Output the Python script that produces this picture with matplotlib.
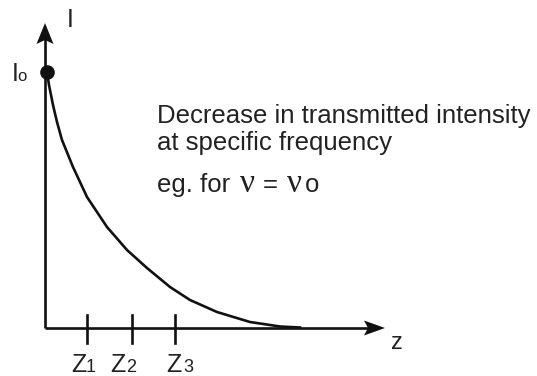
import matplotlib
matplotlib.use('Agg')
import matplotlib.pyplot as plt
from matplotlib.patches import Polygon

# transmitted intensity I against path length z (arbitrary units)
z_curve = [2, 4, 8, 12, 17, 28, 42, 62, 82, 102, 125, 145, 172, 205, 235, 255]
i_curve = [256, 243, 223, 206, 188, 161, 131, 101, 78, 60, 41, 28, 16, 6, 1.5, 0.5]
i0 = 256
z_ticks = [42, 87, 130]
z_tick_labels = ['1', '2', '3']

INK = '#111111'
TXT = '#222222'
SANS = 'Liberation Sans'

fig = plt.figure(figsize=(5.37, 3.76), dpi=100)
ax = fig.add_axes([0, 0, 1, 1])
# one data unit == one pixel, origin of the graph at (45, 328)
ax.set_xlim(-45, 492)
ax.set_ylim(-48, 328)
ax.axis('off')


def px(x, y):
    return x - 45, 328 - y


def arrow_head(tip, direction, length, half_w, notch):
    tx, ty = tip
    dx, dy = direction
    nx, ny = -dy, dx
    bx, by = tx - dx * length, ty - dy * length
    pts = [(tx, ty),
           (bx + nx * half_w, by + ny * half_w),
           (tx - dx * (length - notch), ty - dy * (length - notch)),
           (bx - nx * half_w, by - ny * half_w)]
    ax.add_patch(Polygon(pts, closed=True, color=INK, lw=0, zorder=4))


# axes
ax.plot([0, 0], [0, 290], color=INK, lw=1.9, solid_capstyle='butt')
ax.plot([0, 325], [0, 0], color=INK, lw=1.9, solid_capstyle='butt')
arrow_head((0, 305), (0, 1), 21, 8.5, 4)
arrow_head((340, 0), (1, 0), 21, 7.5, 4)

# tick marks
for t in z_ticks:
    ax.plot([t, t], [-15, 13], color=INK, lw=1.9)

# decay curve and starting point
ax.plot(z_curve, i_curve, color=INK, lw=1.9, solid_joinstyle='round')
ax.plot([2], [i0], 'o', color=INK, ms=9.5, zorder=5)

# axis labels
ax.text(*px(67, 27), 'I', fontsize=18, family=SANS, color=TXT, va='baseline')
ax.text(*px(12, 81), 'I', fontsize=18, family=SANS, color=TXT, va='baseline')
ax.text(*px(17.5, 81), 'o', fontsize=12, family=SANS, color=TXT, va='baseline')
ax.text(*px(391, 349), 'z', fontsize=17, family=SANS, color=TXT, va='baseline')

z_pos = [(71, 86), (110, 126), (166, 183)]
for (zx, sx), lab in zip(z_pos, z_tick_labels):
    ax.text(*px(zx, 372), 'Z', fontsize=18, family=SANS, color=TXT, va='baseline')
    ax.text(*px(sx, 372), lab, fontsize=13, family=SANS, color=TXT, va='baseline')

# description
ax.text(*px(157, 123), 'Decrease in transmitted intensity', fontsize=18.5,
        family=SANS, color=TXT, va='baseline')
ax.text(*px(157, 150), 'at specific frequency', fontsize=18.5,
        family=SANS, color=TXT, va='baseline')
ax.text(*px(157, 192), 'eg. for', fontsize=18.5, family=SANS, color=TXT, va='baseline')
ax.text(*px(240, 192), 'ν', fontsize=24, family='Liberation Serif', color=TXT, va='baseline')
ax.text(*px(263, 192), '=', fontsize=18.5, family=SANS, color=TXT, va='baseline')
ax.text(*px(287, 192), 'ν', fontsize=24, family='Liberation Serif', color=TXT, va='baseline')
ax.text(*px(305, 192), 'o', fontsize=18.5, family=SANS, color=TXT, va='baseline')

fig.savefig('out.png', dpi=100, facecolor='white')
